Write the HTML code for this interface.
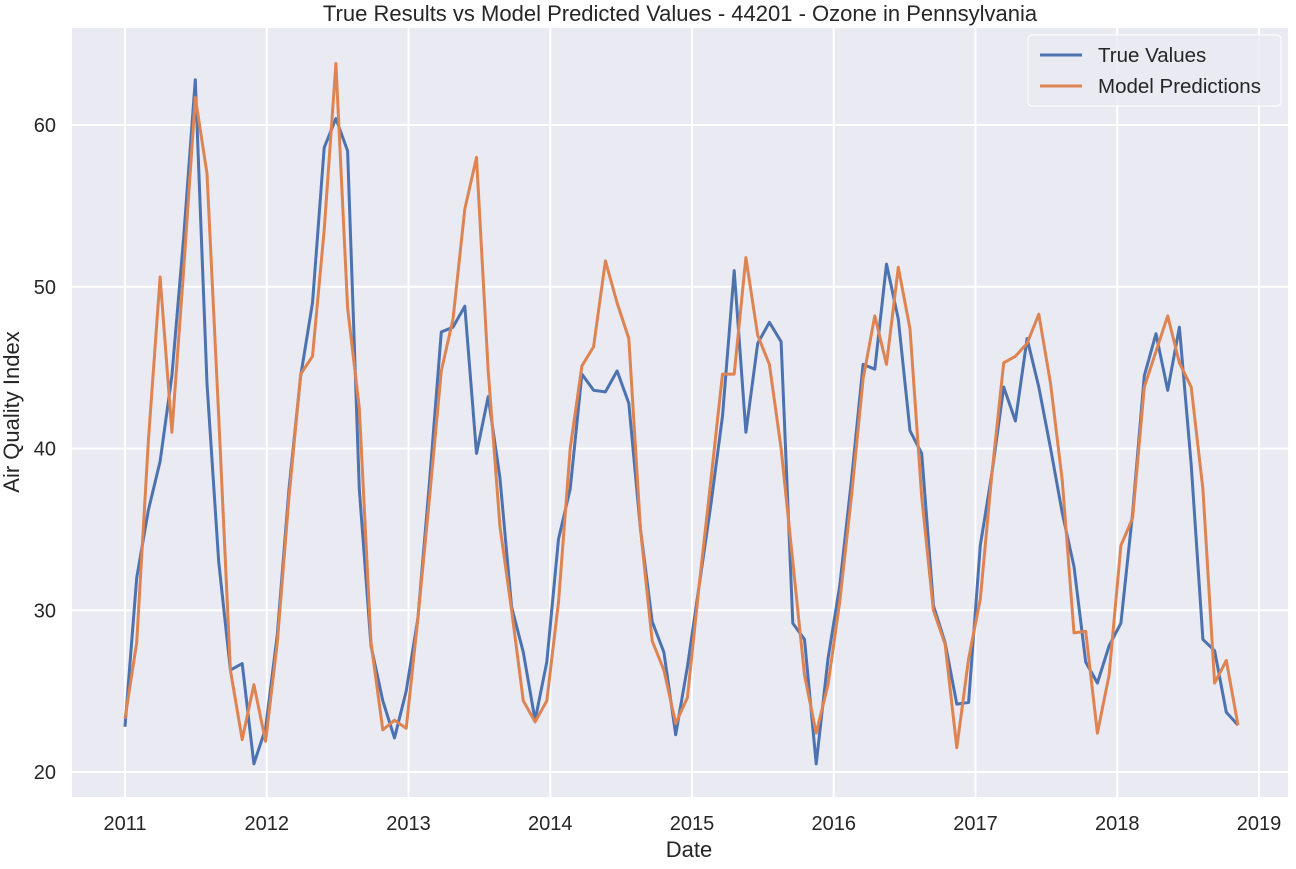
<!DOCTYPE html>
<html><head><meta charset="utf-8"><style>
body{margin:0;background:#fff;}
svg text{font-family:"Liberation Sans","DejaVu Sans",sans-serif;fill:#262626;}
</style></head><body>
<svg id="chart" width="1296" height="864" xmlns="http://www.w3.org/2000/svg">
<rect x="72" y="28" width="1216" height="769" fill="#EAEAF2"/>
<g id="grid"></g>
<g id="lines"></g>
<g id="ticks"></g>
<text x="680" y="21" font-size="22" text-anchor="middle">True Results vs Model Predicted Values - 44201 - Ozone in Pennsylvania</text>
<text x="689" y="857" font-size="22" text-anchor="middle">Date</text>
<text x="0" y="0" font-size="22" text-anchor="middle" transform="translate(19,412) rotate(-90)">Air Quality Index</text>
<g>
<rect x="1028" y="35" width="253" height="71" rx="4" fill="#EAEAF2" stroke="#ffffff" stroke-width="1.2" opacity="0.9"/>
<line x1="1040" y1="55" x2="1082" y2="55" stroke="#4C72B0" stroke-width="3"/>
<text x="1098" y="62" font-size="20.5">True Values</text>
<line x1="1040" y1="86" x2="1082" y2="86" stroke="#DD8452" stroke-width="3"/>
<text x="1098" y="93" font-size="20.5">Model Predictions</text>
</g>
</svg>
<script>
const trueValues=[22.8,32,36.2,39.2,44.5,53,62.8,44,33,26.3,26.7,20.5,
22.7,28.5,37.5,44.5,49,58.6,60.4,58.4,37.5,27.8,24.4,22.1,
25,29.5,38,47.2,47.5,48.8,39.7,43.2,38.2,30.2,27.4,23.2,
26.8,34.4,37.5,44.6,43.6,43.5,44.8,42.8,35,29.3,27.4,22.3,
26.5,31.5,36.5,42,51,41,46.5,47.8,46.6,29.2,28.2,20.5,
27,31.5,38,45.2,44.9,51.4,48,41.1,39.7,30.3,28,24.2,
24.3,34,38.5,43.8,41.7,46.8,43.8,40,36,32.7,26.8,25.5,
27.8,29.2,36,44.5,47.1,43.6,47.5,39,28.2,27.5,23.7,22.9];
const predValues=[23.3,28,40.5,50.6,41,51,61.7,57,42,26.3,22,25.4,
21.9,28,37,44.6,45.7,53.5,63.8,48.7,42.5,28,22.6,23.2,
22.7,29.5,37,44.8,48,54.8,58,44.8,35.2,30,24.4,23.1,
24.4,30.5,40,45.1,46.3,51.6,49,46.8,35,28.1,26.3,23,
24.6,31.5,38,44.6,44.6,51.8,47,45.2,40,33,26,22.4,
25.4,30.5,37,44.3,48.2,45.2,51.2,47.4,37,30,27.9,21.5,
27,30.7,38.5,45.3,45.7,46.5,48.3,44,38,28.6,28.7,22.4,
26,34,35.7,43.8,46,48.2,45.3,43.8,37.5,25.5,26.9,22.9];
const yearTicks=[2011,2012,2013,2014,2015,2016,2017,2018,2019];
const yTicks=[20,30,40,50,60];
const startYear=2011;

const NS="http://www.w3.org/2000/svg";
function yScale(v){return 772-(v-20)*16.175;}
function xYear(y){return 125+(y-startYear)*141.75;}
function xMonth(i){return 125+i*11.716;}
function mk(tag,attrs,parent){const e=document.createElementNS(NS,tag);for(const k in attrs)e.setAttribute(k,attrs[k]);parent.appendChild(e);return e;}
const grid=document.getElementById('grid'),ticks=document.getElementById('ticks'),lines=document.getElementById('lines');
yTicks.forEach(t=>{
  const y=yScale(t);
  const l=mk('line',{x1:72,x2:1288,y1:y,y2:y,stroke:'#fff','stroke-width':2},grid);
  
  
  const tx=mk('text',{x:56,y:y+7,'font-size':20,'text-anchor':'end'},ticks);
  tx.textContent=t;
  
  
});
yearTicks.forEach(t=>{
  const x=xYear(t);
  const l=mk('line',{x1:x,x2:x,y1:28,y2:797,stroke:'#fff','stroke-width':2},grid);
  
  
  const tx=mk('text',{x:x,y:830,'font-size':20,'text-anchor':'middle'},ticks);
  tx.textContent=t;
  
  
});
function path(vals){return vals.map((v,i)=>(i?'L':'M')+xMonth(i).toFixed(1)+','+yScale(v).toFixed(1)).join('');}
const p1=mk('path',{d:path(trueValues),fill:'none',stroke:'#4C72B0','stroke-width':3,'stroke-linejoin':'round'},lines);


const p2=mk('path',{d:path(predValues),fill:'none',stroke:'#DD8452','stroke-width':3,'stroke-linejoin':'round'},lines);


</script>
</body></html>
